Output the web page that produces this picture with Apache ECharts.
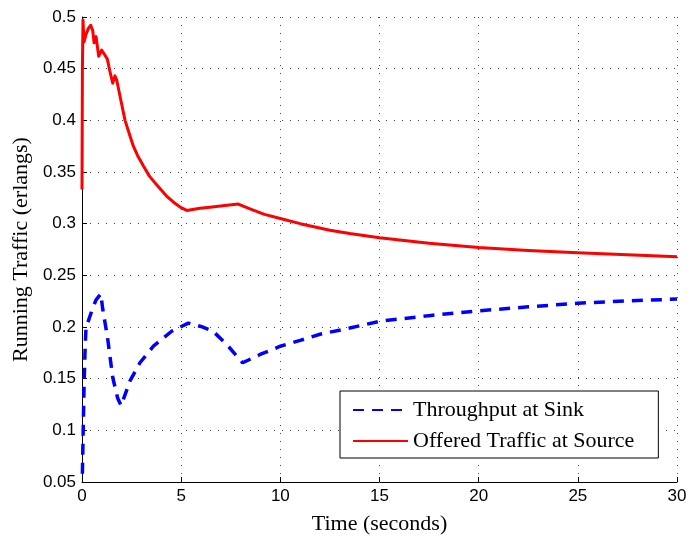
<!DOCTYPE html>
<html>
<head>
<meta charset="utf-8">
<script src="https://cdn.jsdelivr.net/npm/echarts@6/dist/echarts.min.js"></script>
<style>
  html, body { margin: 0; padding: 0; background: #fff; }
  #chart { width: 691px; height: 540px; }
</style>
</head>
<body>
<div id="chart"></div>
<script>
// Offered traffic at the source (solid red)
const sourceTime = [0, 0.02, 0.05, 0.1, 0.2, 0.32, 0.44, 0.54, 0.61, 0.71, 0.84, 0.99, 1.16, 1.28, 1.4, 1.55, 1.66, 1.75, 1.92, 2.17, 2.4, 2.59, 2.8, 3.09, 3.4, 3.7, 3.93, 4.25, 4.6, 4.95, 5.28, 5.95, 6.45, 7.2, 7.88, 8.5, 9.2, 10, 11, 12.5, 13.5, 15, 17.5, 20, 22.5, 25, 27.5, 30];
const sourceTraffic = [0.333, 0.45, 0.497, 0.476, 0.483, 0.489, 0.492, 0.487, 0.475, 0.481, 0.462, 0.468, 0.463, 0.459, 0.448, 0.436, 0.443, 0.439, 0.423, 0.4, 0.386, 0.375, 0.366, 0.356, 0.346, 0.339, 0.334, 0.327, 0.321, 0.316, 0.3128, 0.315, 0.316, 0.3175, 0.319, 0.314, 0.309, 0.305, 0.3, 0.2936, 0.2904, 0.2863, 0.281, 0.2769, 0.274, 0.2718, 0.2698, 0.268];

// Throughput measured at the sink (dashed blue)
const sinkTime = [0.02, 0.06, 0.1, 0.15, 0.2, 0.37, 0.54, 0.71, 0.95, 1.04, 1.29, 1.55, 1.8, 1.97, 2.42, 2.92, 3.6, 4.52, 5.36, 6.0, 6.6, 7.3, 8.1, 8.98, 10, 11, 12, 13.5, 15, 17.5, 20, 22.5, 25, 27.5, 30];
const sinkThroughput = [0.058, 0.1, 0.14, 0.175, 0.199, 0.2087, 0.2183, 0.2263, 0.232, 0.218, 0.1894, 0.151, 0.131, 0.1238, 0.1478, 0.1654, 0.1814, 0.1959, 0.2038, 0.2005, 0.196, 0.183, 0.1654, 0.1734, 0.1814, 0.187, 0.193, 0.199, 0.2055, 0.211, 0.2157, 0.2195, 0.223, 0.2253, 0.227];

const seriesNames = ['Throughput at Sink', 'Offered Traffic at Source'];

const pairs = (xs, ys) => xs.map((x, i) => [x, ys[i]]);

const sansFont = '"Liberation Sans", Arial, sans-serif';
const serifFont = '"Liberation Serif", "Times New Roman", serif';

const gridLine = { show: true, lineStyle: { color: '#444', width: 1, type: [1, 7] } };

const chart = echarts.init(document.getElementById('chart'), null, { renderer: 'canvas' });
chart.setOption({
  animation: false,
  backgroundColor: '#fff',
  grid: { left: 82, right: 14, top: 17, bottom: 55, containLabel: false },
  xAxis: {
    type: 'value',
    min: 0, max: 30, interval: 5,
    name: 'Time (seconds)',
    nameLocation: 'middle',
    nameGap: 31,
    nameTextStyle: { fontFamily: serifFont, fontSize: 22, color: '#000', verticalAlign: 'top' },
    axisLine: { show: true, onZero: false, lineStyle: { color: '#000', width: 1 } },
    axisTick: { show: true, inside: true, length: 5, lineStyle: { color: '#000' } },
    axisLabel: { fontFamily: sansFont, fontSize: 17, color: '#000', margin: 6 },
    splitLine: gridLine
  },
  yAxis: {
    type: 'value',
    min: 0.05, max: 0.5, interval: 0.05,
    name: 'Running Traffic (erlangs)',
    nameLocation: 'middle',
    nameRotate: 90,
    nameGap: 45,
    nameTextStyle: { fontFamily: serifFont, fontSize: 22, color: '#000' },
    axisLine: { show: true, onZero: false, lineStyle: { color: '#000', width: 1 } },
    axisTick: { show: true, inside: true, length: 5, lineStyle: { color: '#000' } },
    axisLabel: {
      fontFamily: sansFont, fontSize: 17, color: '#000', margin: 6,
      formatter: v => String(Math.round(v * 100) / 100)
    },
    splitLine: gridLine
  },
  legend: {
    data: seriesNames,
    orient: 'vertical',
    left: 340,
    top: 391,
    itemWidth: 55,
    itemHeight: 14,
    itemGap: 9,
    padding: [8, 24, 6, 12],
    backgroundColor: '#fff',
    borderColor: '#000',
    borderWidth: 1,
    itemStyle: { opacity: 0 },
    textStyle: { fontFamily: serifFont, fontSize: 22, color: '#000' }
  },
  series: [
    {
      name: seriesNames[0],
      type: 'line',
      data: pairs(sinkTime, sinkThroughput),
      symbol: 'none',
      smooth: false,
      z: 3,
      itemStyle: { color: '#0000ff' },
      lineStyle: { color: '#0000ff', width: 3.5, type: [11, 8], cap: 'butt' }
    },
    {
      name: seriesNames[1],
      type: 'line',
      data: pairs(sourceTime, sourceTraffic),
      symbol: 'none',
      smooth: false,
      z: 4,
      itemStyle: { color: '#ff0000' },
      lineStyle: { color: '#ff0000', width: 3, join: 'round' }
    }
  ]
});
</script>
</body>
</html>
